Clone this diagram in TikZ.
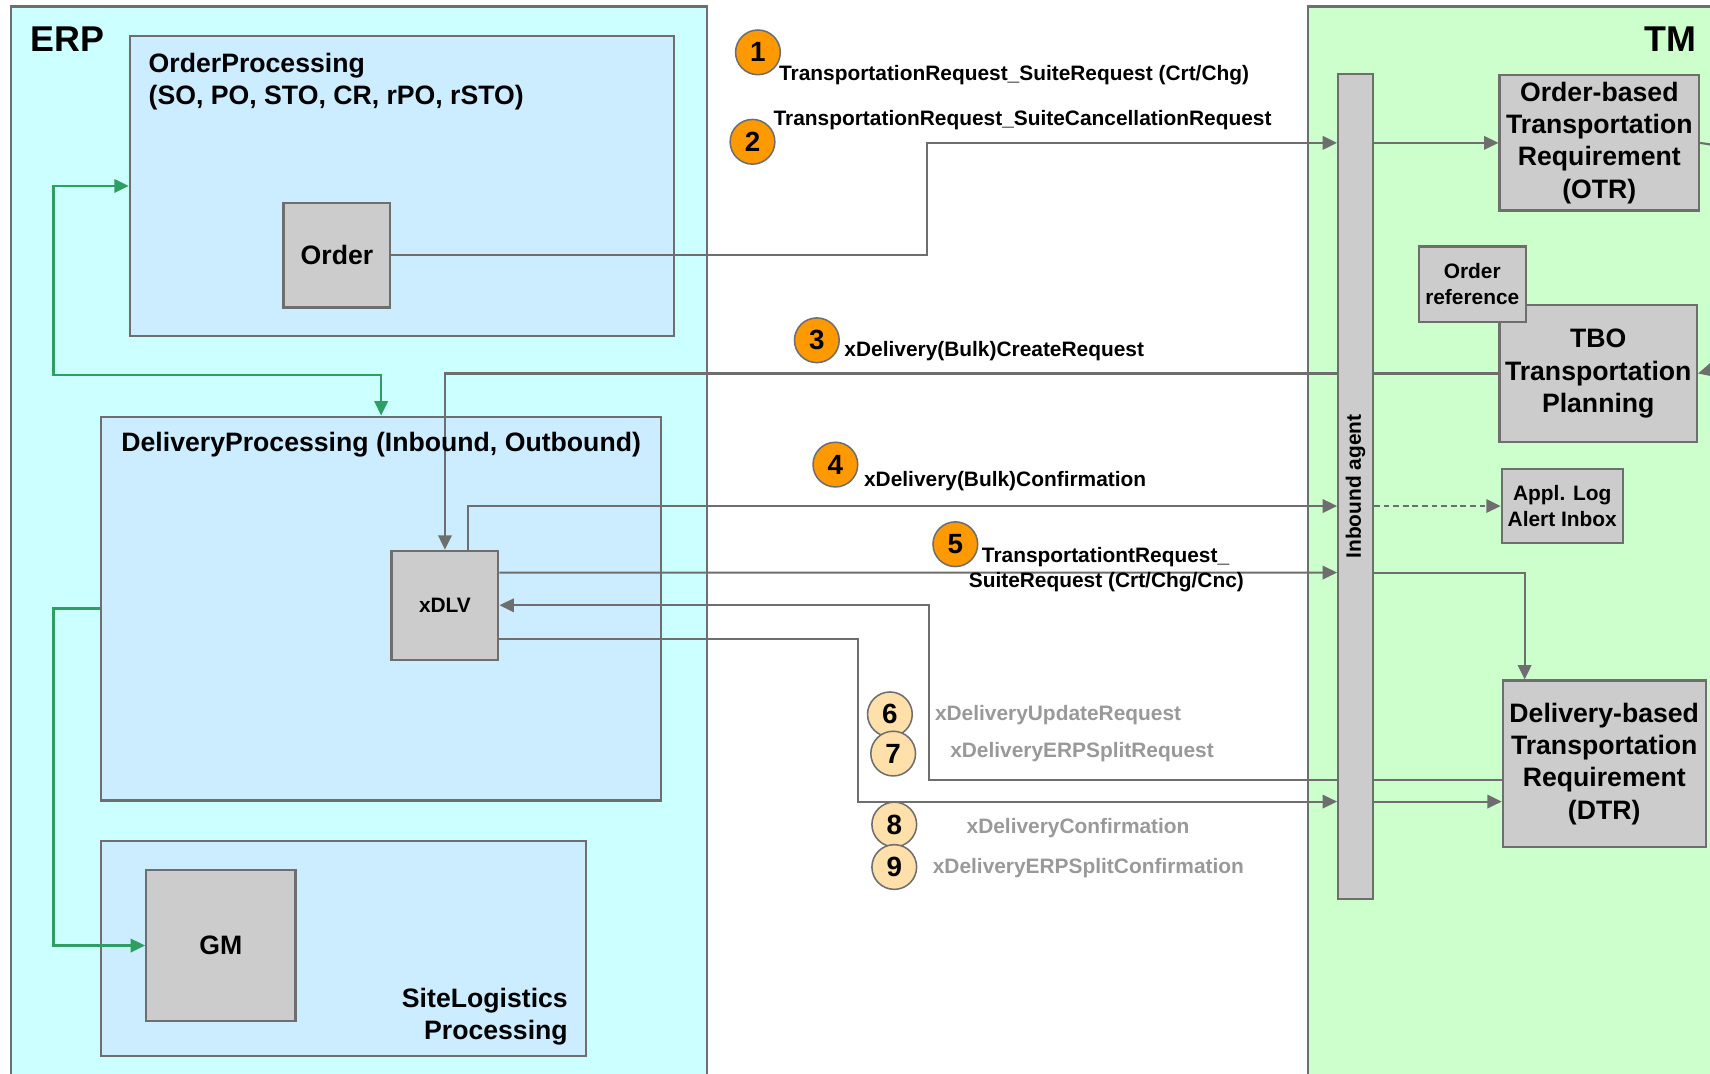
\documentclass[tikz,border=0pt]{standalone}
\usepackage{fontspec}
\setmainfont{Liberation Sans}
\usepackage{xcolor}
\usepackage{tikz}
\usetikzlibrary{calc,positioning,arrows.meta,backgrounds}
\pgfdeclarelayer{wires}
\pgfsetlayers{background,wires,main}

\definecolor{erpcyan}{HTML}{CCFFFF}
\definecolor{tmgreen}{HTML}{CCFFCC}
\definecolor{procblue}{HTML}{CCECFF}
\definecolor{boxgray}{HTML}{CCCCCC}
\definecolor{linegray}{HTML}{6E6E6E}
\definecolor{badgeorange}{HTML}{FF9900}
\definecolor{badgelight}{HTML}{FFDFAA}
\definecolor{textgray}{HTML}{999999}
\definecolor{flowgreen}{HTML}{2E9E63}

\newcommand{\erpfont}{\fontsize{18.7}{22}\selectfont\bfseries}
\newcommand{\boxfont}{\fontsize{13.9}{16.8}\selectfont\bfseries}
\newcommand{\msgfont}{\fontsize{10.9}{13.6}\selectfont\bfseries}
\newcommand{\numfont}{\fontsize{14.5}{16}\selectfont\bfseries}

\tikzset{
  arealine/.style={draw=linegray,line width=1.1pt},
  procbox/.style={draw=linegray,line width=1.1pt,fill=procblue,inner sep=0pt},
  objbox/.style={draw=linegray,line width=1.1pt,fill=boxgray,align=center,inner sep=0pt,font=\boxfont},
  titletext/.style={font=\boxfont,inner sep=0pt},
  msg/.style={font=\msgfont,anchor=west,inner sep=0pt},
  badge/.style={circle,draw=linegray,line width=0.8pt,fill=badgeorange,font=\numfont,minimum size=0.82cm,inner sep=0pt},
  tip/.style={-{Triangle[length=7.5pt,width=7pt]}},
  flow/.style={draw=linegray,line width=1.1pt,tip},
  gflow/.style={draw=flowgreen,line width=1.1pt}
}

\begin{document}
\begin{tikzpicture}
  \useasboundingbox (0,0) rectangle (31.36,-19.68);
  % the two systems and the process areas
  \begin{pgfonlayer}{background}
    \fill[white] (0,0) rectangle (31.36,-19.68);
    \draw[arealine,fill=erpcyan] (0.2,-0.12) rectangle (12.96,-20);
    \draw[arealine,fill=tmgreen] (23.98,-0.12) rectangle (32,-20);
    \node[procbox,minimum width=9.98cm,minimum height=5.5cm] (op) at (7.37,-3.41) {};
    \node[procbox,minimum width=10.26cm,minimum height=7.04cm] (dp) at (6.99,-11.16) {};
    \node[procbox,minimum width=8.88cm,minimum height=3.94cm] (sl) at (6.3,-17.39) {};
  \end{pgfonlayer}
  \node[font=\erpfont,anchor=west,inner sep=0pt] (erp) at (0.56,-0.72) {ERP};
  \node[font=\erpfont,anchor=east,inner sep=0pt] (tm) at (31.12,-0.72) {TM};

  % ERP side
  \node[titletext,anchor=north west,align=left] (optitle) at ($(op.north west)+(0.36,-0.32)$) {OrderProcessing\\(SO, PO, STO, CR, rPO, rSTO)};
  \node[objbox,minimum width=1.96cm,minimum height=1.92cm] (order) at (6.18,-4.68) {Order};
  \node[titletext,anchor=north] (dptitle) at ($(dp.north)+(0,-0.3)$) {DeliveryProcessing (Inbound, Outbound)};
  \node[objbox,font=\msgfont,minimum width=1.96cm,minimum height=2cm] (xdlv) at (8.16,-11.1) {xDLV};
  \node[objbox,minimum width=2.74cm,minimum height=2.76cm] (gm) at (4.05,-17.34) {GM};
  \node[titletext,anchor=south east,align=right] (sltitle) at ($(sl.south east)+(-0.34,0.2)$) {SiteLogistics\\Processing};

  % TM side
  \node[objbox,minimum width=0.64cm,minimum height=15.12cm] (agent) at (24.86,-8.92) {};
  \node[font=\msgfont,rotate=90,inner sep=0pt] (agentlbl) at (agent.center) {Inbound agent};
  \node[objbox,minimum width=3.66cm,minimum height=2.48cm] (otr) at (29.33,-2.62) {Order-based\\Transportation\\Requirement\\(OTR)};
  \node[objbox,minimum width=3.62cm,minimum height=2.5cm] (tbo) at (29.31,-6.85) {TBO\\Transportation\\Planning};
  \node[objbox,font=\msgfont,minimum width=1.96cm,minimum height=1.38cm] (oref) at (27.0,-5.21) {Order\\reference};
  \node[objbox,font=\msgfont,minimum width=2.22cm,minimum height=1.36cm] (alog) at (28.65,-9.28) {Appl. Log\\Alert Inbox};
  \node[objbox,minimum width=3.72cm,minimum height=3.06cm] (dtr) at (29.42,-14.01) {Delivery-based\\Transportation\\Requirement\\(DTR)};

  % message numbers
  \foreach \n/\x/\y in {1/13.9/-0.96, 2/13.8/-2.6, 3/14.98/-6.24, 4/15.32/-8.52, 5/17.52/-9.98}
    \node[badge] (b\n) at (\x,\y) {\n};
  \foreach \n/\x/\y in {6/16.32/-13.1, 7/16.38/-13.82, 8/16.4/-15.12, 9/16.4/-15.9}
    \node[badge,fill=badgelight] (b\n) at (\x,\y) {\n};

  \node[msg] (m1) at (14.28,-1.38) {TransportationRequest\_SuiteRequest (Crt/Chg)};
  \node[msg] (m2) at (14.18,-2.2) {TransportationRequest\_SuiteCancellationRequest};
  \node[msg] (m3) at (15.48,-6.44) {xDelivery(Bulk)CreateRequest};
  \node[msg] (m4) at (15.84,-8.82) {xDelivery(Bulk)Confirmation};
  \node[msg] (m5a) at (18.0,-10.22) {TransportationtRequest\_};
  \node[msg] (m5b) at (17.76,-10.68) {SuiteRequest (Crt/Chg/Cnc)};
  \node[msg,text=textgray] (m6) at (17.14,-13.12) {xDeliveryUpdateRequest};
  \node[msg,text=textgray] (m7) at (17.42,-13.8) {xDeliveryERPSplitRequest};
  \node[msg,text=textgray] (m8) at (17.72,-15.18) {xDeliveryConfirmation};
  \node[msg,text=textgray] (m9) at (17.1,-15.92) {xDeliveryERPSplitConfirmation};

  % connectors
  \begin{pgfonlayer}{wires}
    \draw[flow] (order.east) -- ++(9.82,0) |- (agent.west |- otr.west);
    \draw[flow] (agent.east |- otr.west) -- (otr.west);
    \draw[linegray,line width=1.1pt] (otr.east) -- ++(0.5,-0.08);
    \draw[flow] (31.7,-6.7) -- (tbo.east);
    \draw[flow] (tbo.west) -| (xdlv.north);
    \draw[flow] ($(xdlv.north)+(0.42,0)$) |- (agent.west |- alog.west);
    \draw[flow,dash pattern=on 3pt off 2pt] (agent.east |- alog.west) -- (alog.west);
    \draw[flow] ($(xdlv.east)+(0,0.6)$) -- (agent.west |- 0,-10.5);
    \draw[flow] (agent.east |- 0,-10.5) -| ($(dtr.north west)+(0.42,0)$);
    \draw[flow] (dtr.west |- 0,-14.3) -| ($(xdlv.east)+(7.88,0)$) -- (xdlv.east);
    \draw[flow] ($(xdlv.east)+(0,-0.62)$) -- ++(6.58,0) |- (agent.west |- 0,-14.7);
    \draw[flow] (agent.east |- 0,-14.7) -- (dtr.west |- 0,-14.7);
    % inside ERP
    \draw[gflow,{Triangle[length=7.5pt,width=7pt]}-{Triangle[length=7.5pt,width=7pt]}] (op.west) -- ++(-1.38,0) |- ($(dp.north)+(0,0.74)$) -- (dp.north);
    \draw[gflow,tip] (dp.west) -- ++(-0.86,0) |- (gm.west);
  \end{pgfonlayer}
\end{tikzpicture}
\end{document}
